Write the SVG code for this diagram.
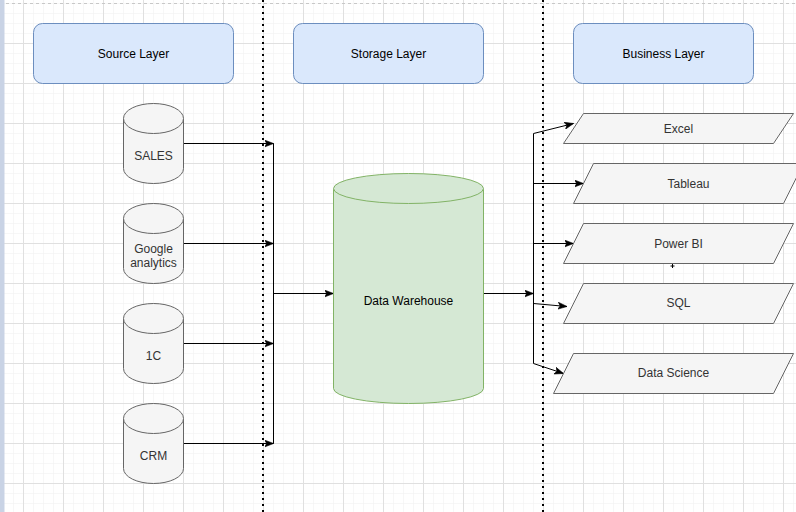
<svg xmlns="http://www.w3.org/2000/svg" width="796" height="512" viewBox="0 0 796 512">
  <defs>
    <pattern id="minor" x="3" y="3" width="10" height="10" patternUnits="userSpaceOnUse">
      <path d="M0,0 H10 M0,0 V10" fill="none" stroke="#f0f0f0" stroke-width="1"/>
    </pattern>
    <pattern id="major" x="3" y="3" width="40" height="40" patternUnits="userSpaceOnUse">
      <path d="M20.5,0 V40 M0,0.5 H40" fill="none" stroke="#e0e0e0" stroke-width="1"/>
    </pattern>
    <marker id="arrow" viewBox="0 0 10 8" refX="9" refY="4" markerWidth="10" markerHeight="8" markerUnits="userSpaceOnUse" orient="auto">
      <path d="M0,0.5 L9,4 L0,7.5 L2.2,4 Z" fill="#000" stroke="#000" stroke-width="0.6"/>
    </marker>
    <style>
      .hdr { fill: #dae8fc; stroke: #6c8ebf; stroke-width: 1; }
      .cyl { fill: #f5f5f5; stroke: #666666; stroke-width: 1; }
      .dw { fill: #d5e8d4; stroke: #82b366; stroke-width: 1; }
      .par { fill: #f5f5f5; stroke: #666666; stroke-width: 1; }
      .t { font-family: "Liberation Sans", Arial, Helvetica, sans-serif; font-size: 12px; text-anchor: middle; }
      .tk { fill: #000000; }
      .tg { fill: #333333; }
      .edge { fill: none; stroke: #000; stroke-width: 1; }
      .dot { fill: none; stroke: #000; stroke-width: 2; stroke-dasharray: 2 4; }
    </style>
  </defs>

  <rect x="0" y="0" width="796" height="512" fill="#ffffff"/>
  <rect x="0" y="0" width="796" height="512" fill="url(#minor)"/>
  <g fill="none" stroke="#e0e0e0" stroke-width="1">
    <path d="M23.5,0 V512 M63.5,0 V512 M103.5,0 V512 M143.5,0 V512 M183.5,0 V512 M223.5,0 V512 M263.5,0 V512 M303.5,0 V512 M343.5,0 V512 M383.5,0 V512 M423.5,0 V512 M463.5,0 V512 M503.5,0 V512 M543.5,0 V512 M583.5,0 V512 M623.5,0 V512 M663.5,0 V512 M703.5,0 V512 M743.5,0 V512 M783.5,0 V512"/>
    <path d="M0,43.5 H796 M0,83.5 H796 M0,123.5 H796 M0,163.5 H796 M0,203.5 H796 M0,243.5 H796 M0,283.5 H796 M0,323.5 H796 M0,363.5 H796 M0,403.5 H796 M0,443.5 H796 M0,483.5 H796"/>
  </g>
  <path d="M0,3.5 H796" fill="none" stroke="#c8c8c8" stroke-width="1" stroke-dasharray="3 3"/>
  <rect x="0" y="0" width="4.5" height="512" fill="#c9d3e5"/>

  <g id="divider-1"><path class="dot" d="M263,0 V512"/></g>
  <g id="divider-2"><path class="dot" d="M543,0 V512"/></g>

  <g id="source-layer">
    <rect class="hdr" x="33.5" y="23.5" width="200" height="60" rx="9" ry="9"/>
    <text class="t tk" x="133.5" y="57.5">Source Layer</text>
  </g>
  <g id="storage-layer">
    <rect class="hdr" x="293.5" y="23.5" width="190" height="60" rx="9" ry="9"/>
    <text class="t tk" x="388.5" y="57.5">Storage Layer</text>
  </g>
  <g id="business-layer">
    <rect class="hdr" x="573.5" y="23.5" width="180" height="60" rx="9" ry="9"/>
    <text class="t tk" x="663.5" y="57.5">Business Layer</text>
  </g>

  <g id="connectors">
    <path class="edge" d="M183.5,143.5 H273.5" marker-end="url(#arrow)"/>
    <path class="edge" d="M183.5,243.5 H273.5" marker-end="url(#arrow)"/>
    <path class="edge" d="M183.5,343.5 H273.5" marker-end="url(#arrow)"/>
    <path class="edge" d="M183.5,443.5 H273.5" marker-end="url(#arrow)"/>
    <path class="edge" d="M273.5,143.5 V443.5"/>
    <path class="edge" d="M273.5,293.5 H333.5" marker-end="url(#arrow)"/>
    <path class="edge" d="M483.5,293.5 H533.5" marker-end="url(#arrow)"/>
    <path class="edge" d="M533.5,133.5 V363.5"/>
    <path class="edge" d="M533.5,133.5 L573.5,123.5" marker-end="url(#arrow)"/>
    <path class="edge" d="M533.5,183.5 H583.5" marker-end="url(#arrow)"/>
    <path class="edge" d="M533.5,243.5 H573.5" marker-end="url(#arrow)"/>
    <path class="edge" d="M533.5,303.5 L567,306.5" marker-end="url(#arrow)"/>
    <path class="edge" d="M533.5,363.5 L563.5,373.5" marker-end="url(#arrow)"/>
  </g>

  <g id="sales">
    <path class="cyl" d="M123.5,118.5 A30,15 0 0 1 183.5,118.5 L183.5,168.5 A30,15 0 0 1 123.5,168.5 Z"/>
    <path class="cyl" fill="none" d="M123.5,118.5 A30,15 0 0 0 183.5,118.5"/>
    <text class="t tg" x="153.5" y="159.5">SALES</text>
  </g>
  <g id="google-analytics">
    <path class="cyl" d="M123.5,218.5 A30,15 0 0 1 183.5,218.5 L183.5,268.5 A30,15 0 0 1 123.5,268.5 Z"/>
    <path class="cyl" fill="none" d="M123.5,218.5 A30,15 0 0 0 183.5,218.5"/>
    <text class="t tg" x="153.5" y="253">Google</text>
    <text class="t tg" x="153.5" y="267">analytics</text>
  </g>
  <g id="one-c">
    <path class="cyl" d="M123.5,318.5 A30,15 0 0 1 183.5,318.5 L183.5,368.5 A30,15 0 0 1 123.5,368.5 Z"/>
    <path class="cyl" fill="none" d="M123.5,318.5 A30,15 0 0 0 183.5,318.5"/>
    <text class="t tg" x="153.5" y="359.5">1C</text>
  </g>
  <g id="crm">
    <path class="cyl" d="M123.5,418.5 A30,15 0 0 1 183.5,418.5 L183.5,468.5 A30,15 0 0 1 123.5,468.5 Z"/>
    <path class="cyl" fill="none" d="M123.5,418.5 A30,15 0 0 0 183.5,418.5"/>
    <text class="t tg" x="153.5" y="459.5">CRM</text>
  </g>

  <g id="data-warehouse">
    <path class="dw" d="M333.5,188.5 A75,15 0 0 1 483.5,188.5 L483.5,388.5 A75,15 0 0 1 333.5,388.5 Z"/>
    <path class="dw" fill="none" d="M333.5,188.5 A75,15 0 0 0 483.5,188.5"/>
    <text class="t tk" x="408.5" y="304.5">Data Warehouse</text>
  </g>

  <g id="excel">
    <path class="par" d="M583.5,113.5 H793.5 L773.5,143.5 H563.5 Z"/>
    <text class="t tg" x="678.5" y="132.5">Excel</text>
  </g>
  <g id="tableau">
    <path class="par" d="M593.5,163.5 H803.5 L783.5,203.5 H573.5 Z"/>
    <text class="t tg" x="688.5" y="187.5">Tableau</text>
  </g>
  <g id="power-bi">
    <path class="par" d="M583.5,223.5 H793.5 L773.5,263.5 H563.5 Z"/>
    <text class="t tg" x="678.5" y="247.5">Power BI</text>
  </g>
  <path d="M670.5,266 H674.5 M672.5,264 V268" fill="none" stroke="#000" stroke-width="1"/>
  <g id="sql">
    <path class="par" d="M583.5,283.5 H793.5 L773.5,323.5 H563.5 Z"/>
    <text class="t tg" x="678.5" y="307">SQL</text>
  </g>
  <g id="data-science">
    <path class="par" d="M573.5,353.5 H793.5 L773.5,393.5 H553.5 Z"/>
    <text class="t tg" x="673.5" y="377">Data Science</text>
  </g>
</svg>
